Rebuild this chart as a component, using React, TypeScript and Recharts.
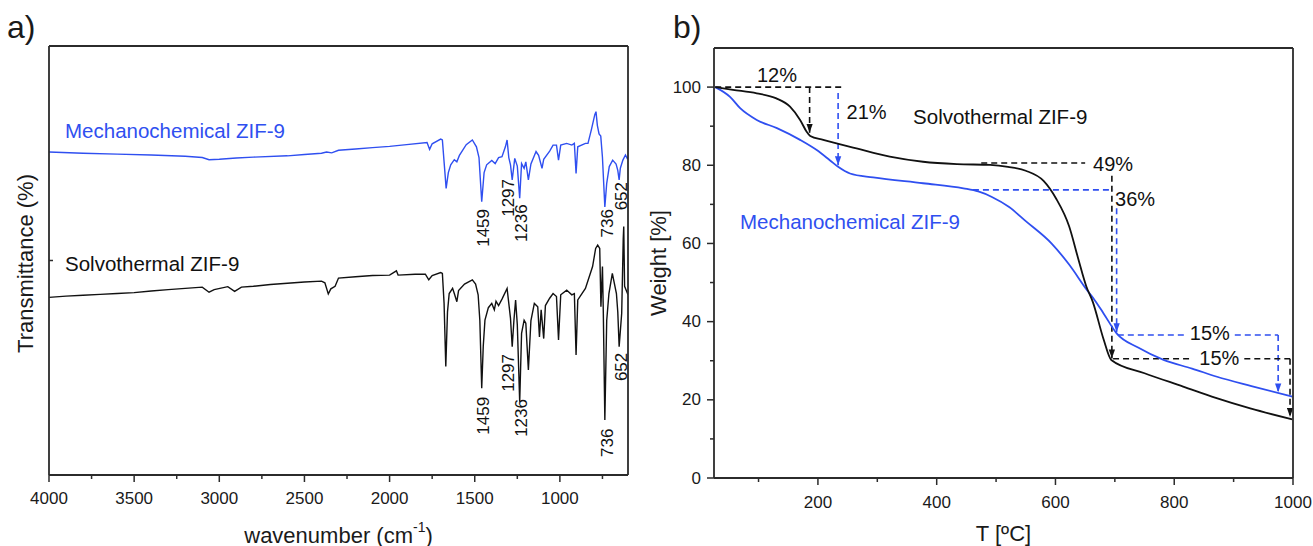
import React from 'react';
import { LineChart, Line, XAxis, YAxis, ReferenceLine, ReferenceDot } from 'recharts';

const FONT = '"Liberation Sans", Arial, Helvetica, sans-serif';
const BLUE = '#2f4ff0';
const BLACK = '#111111';
const AXIS = '#2b2b2b';
const TXT = '#1a1a1a';

// ---------- Panel a: FTIR (wavenumber, transmittance in arbitrary offset units) ----------
const ftirMechano: [number, number][] = [
  [4000, 75.3], [3800, 75.0], [3600, 74.8], [3400, 74.6], [3200, 74.3], [3100, 74.0], [3060, 73.5],
  [3000, 73.6], [2900, 73.9], [2800, 74.1], [2600, 74.4], [2500, 74.7], [2400, 75.0], [2370, 75.3],
  [2340, 75.1], [2300, 75.7], [2200, 76.0], [2100, 76.3], [2000, 76.6], [1900, 77.0], [1780, 77.5],
  [1765, 75.9], [1750, 77.2], [1700, 78.3], [1690, 78.1], [1678, 72.0], [1668, 66.8], [1655, 70.5],
  [1641, 72.3], [1620, 73.5], [1605, 73.0], [1590, 74.5], [1550, 77.0], [1514, 78.1], [1490, 76.5],
  [1475, 74.0], [1459, 63.7], [1445, 70.5], [1430, 72.3], [1400, 73.3], [1380, 72.6], [1360, 74.0],
  [1340, 74.2], [1320, 76.5], [1310, 78.1], [1300, 74.0], [1290, 72.3], [1280, 68.8], [1265, 73.8],
  [1250, 72.0], [1236, 64.5], [1225, 72.6], [1210, 71.5], [1200, 73.0], [1185, 68.8], [1170, 72.5],
  [1140, 75.4], [1125, 74.5], [1105, 71.5], [1095, 73.6], [1060, 75.5], [1040, 76.9], [1020, 76.9],
  [1008, 73.4], [995, 76.9], [960, 77.3], [930, 76.9], [915, 77.3], [905, 70.3], [895, 76.5],
  [850, 77.3], [835, 77.3], [815, 80.5], [795, 84.0], [788, 84.7], [780, 81.5], [770, 79.5],
  [760, 79.0], [750, 74.0], [736, 62.5], [725, 68.0], [710, 71.9], [690, 73.4], [670, 72.5],
  [660, 71.0], [652, 68.8], [645, 71.5], [630, 73.4], [615, 74.6], [605, 73.8], [600, 74.0],
];

const ftirSolvo: [number, number][] = [
  [4000, 41.4], [3900, 41.7], [3800, 41.9], [3700, 42.1], [3600, 42.3], [3500, 42.5], [3400, 42.9],
  [3300, 43.2], [3200, 43.5], [3100, 43.8], [3060, 42.6], [3030, 43.2], [2950, 43.9], [2910, 42.8],
  [2870, 43.8], [2800, 44.0], [2700, 44.4], [2600, 44.7], [2500, 45.0], [2400, 45.2], [2380, 44.8],
  [2360, 42.2], [2345, 43.4], [2320, 44.0], [2300, 45.9], [2200, 46.2], [2100, 46.5], [2000, 46.6],
  [1960, 47.6], [1950, 46.6], [1850, 46.8], [1790, 46.8], [1770, 45.5], [1750, 46.5], [1700, 47.2],
  [1690, 47.0], [1680, 40.0], [1670, 25.3], [1660, 38.0], [1650, 42.3], [1630, 43.5], [1620, 42.3],
  [1605, 40.4], [1595, 43.0], [1560, 44.5], [1514, 45.5], [1495, 44.5], [1480, 42.0], [1470, 36.0],
  [1459, 20.2], [1450, 30.0], [1440, 36.1], [1420, 39.0], [1400, 40.0], [1385, 38.5], [1375, 40.5],
  [1360, 39.5], [1340, 41.0], [1310, 43.5], [1300, 40.0], [1290, 36.5], [1280, 29.9], [1270, 36.0],
  [1260, 40.8], [1250, 35.0], [1236, 17.1], [1225, 33.0], [1210, 36.1], [1200, 35.4], [1185, 24.5],
  [1170, 36.0], [1150, 40.0], [1130, 39.2], [1120, 32.2], [1110, 38.5], [1095, 31.8], [1085, 39.5],
  [1060, 41.2], [1040, 42.3], [1020, 41.6], [1008, 31.5], [995, 42.0], [960, 43.1], [930, 42.0],
  [915, 42.3], [905, 28.0], [895, 40.8], [850, 43.5], [808, 48.6], [790, 52.8], [778, 53.6],
  [766, 52.8], [759, 39.2], [750, 48.6], [745, 38.0], [736, 12.8], [725, 36.0], [712, 42.3],
  [692, 47.0], [668, 42.3], [660, 38.0], [652, 29.9], [637, 37.7], [628, 55.0], [625, 57.9],
  [620, 44.0], [610, 43.0], [600, 42.0],
];

const ftirXTicks = [4000, 3750, 3500, 3250, 3000, 2750, 2500, 2250, 2000, 1750, 1500, 1250, 1000, 750];
const ftirYTicks = [50];

const ftirPeakLabels = [
  { text: '1459', x: 1447, y: 57.6, color: BLACK },
  { text: '1297', x: 1300, y: 64.6, color: BLACK },
  { text: '1236', x: 1224, y: 58.7, color: BLACK },
  { text: '736', x: 718, y: 58.7, color: BLACK },
  { text: '652', x: 641, y: 65.0, color: BLACK },
  { text: '1459', x: 1447, y: 13.8, color: BLACK },
  { text: '1297', x: 1300, y: 23.8, color: BLACK },
  { text: '1236', x: 1224, y: 13.3, color: BLACK },
  { text: '736', x: 718, y: 7.5, color: BLACK },
  { text: '652', x: 641, y: 25.2, color: BLACK },
];

const ftirSeriesLabels = [
  { text: 'Mechanochemical ZIF-9', x: 3906, y: 80.2, color: BLUE },
  { text: 'Solvothermal ZIF-9', x: 3906, y: 49.4, color: BLACK },
];

// ---------- Panel b: TGA (temperature °C, weight %) ----------
const tgaSolvo: [number, number][] = [
  [27, 100], [57, 99.3], [97, 98.4], [130, 97.1], [153, 95.0], [170, 91.6], [181, 88.6], [187, 87.5],
  [209, 86.5], [265, 84.3], [321, 82.2], [377, 80.9], [434, 80.3], [490, 80.1], [520, 79.6],
  [550, 78.6], [580, 76.0], [601, 71.5], [623, 64.4], [638, 56.3], [652, 49.0], [663, 45.0],
  [681, 35.5], [694, 30.2], [750, 26.8], [815, 23.4], [870, 20.5], [928, 17.8], [999, 15.0],
];

const tgaMechano: [number, number][] = [
  [27, 100], [52, 97.5], [69, 94.6], [97, 91.6], [131, 89.5], [170, 86.5], [198, 83.9], [220, 81.3],
  [234, 79.6], [254, 77.9], [293, 76.9], [377, 75.4], [445, 74.1], [470, 73.3], [493, 71.9],
  [522, 69.3], [550, 65.7], [594, 59.9], [623, 54.6], [652, 48.3], [667, 45.3], [681, 42.1],
  [703, 37.0], [740, 33.3], [782, 30.2], [830, 28.0], [872, 25.9], [930, 23.5], [999, 20.8],
];

const tgaXTicks = [100, 200, 300, 400, 500, 600, 700, 800, 900, 1000];
const tgaYTicks = [0, 10, 20, 30, 40, 50, 60, 70, 80, 90, 100];

const tgaDashes = [
  { x1: 27, y1: 100, x2: 242, y2: 100, color: BLACK, arrow: false },
  { x1: 186, y1: 100, x2: 186, y2: 88.3, color: BLACK, arrow: true },
  { x1: 234, y1: 98.5, x2: 234, y2: 80.0, color: BLUE, arrow: true },
  { x1: 475, y1: 80.6, x2: 650, y2: 80.6, color: BLACK, arrow: false },
  { x1: 695, y1: 77.3, x2: 695, y2: 30.6, color: BLACK, arrow: true },
  { x1: 461, y1: 73.7, x2: 697, y2: 73.7, color: BLUE, arrow: false },
  { x1: 703, y1: 69.0, x2: 703, y2: 37.3, color: BLUE, arrow: true },
  { x1: 705, y1: 36.6, x2: 818, y2: 36.6, color: BLUE, arrow: false },
  { x1: 902, y1: 36.6, x2: 975, y2: 36.6, color: BLUE, arrow: false },
  { x1: 975, y1: 36.6, x2: 975, y2: 21.9, color: BLUE, arrow: true },
  { x1: 697, y1: 30.5, x2: 825, y2: 30.5, color: BLACK, arrow: false },
  { x1: 918, y1: 30.5, x2: 995, y2: 30.5, color: BLACK, arrow: false },
  { x1: 995, y1: 30.5, x2: 995, y2: 15.6, color: BLACK, arrow: true },
];

const tgaTexts = [
  { text: '12%', x: 131, y: 103.1, color: BLACK, size: 20 },
  { text: '21%', x: 282, y: 93.7, color: BLACK, size: 20 },
  { text: 'Solvothermal ZIF-9', x: 507, y: 92.4, color: BLACK, size: 20.5 },
  { text: 'Mechanochemical ZIF-9', x: 254, y: 65.7, color: BLUE, size: 20.5 },
  { text: '49%', x: 697, y: 80.4, color: BLACK, size: 20 },
  { text: '36%', x: 734, y: 71.5, color: BLACK, size: 20 },
  { text: '15%', x: 860, y: 37.0, color: BLACK, size: 20 },
  { text: '15%', x: 876, y: 30.7, color: BLACK, size: 20 },
];

const toPts = (arr: [number, number][]) => arr.map(([x, y]) => ({ x, y }));

const XTick = (majorEvery: number, offset: number) => (props: any) => {
  const { x, y, payload } = props;
  const v = payload.value;
  const major = v % majorEvery === 0;
  return (
    <g>
      <line x1={x} x2={x} y1={y} y2={y + (major ? 7 : 4)} stroke={AXIS} strokeWidth={1.5} />
      {major && (
        <text x={x} y={y + offset} textAnchor="middle" dominantBaseline="central" fontSize={17} fontFamily={FONT} fill={TXT}>
          {v}
        </text>
      )}
    </g>
  );
};

const YTickB = (props: any) => {
  const { x, y, payload } = props;
  const v = payload.value;
  const major = v % 20 === 0;
  return (
    <g>
      <line x1={x} x2={x - (major ? 7 : 4)} y1={y} y2={y} stroke={AXIS} strokeWidth={1.5} />
      {major && (
        <text x={x - 13} y={y} textAnchor="end" dominantBaseline="central" fontSize={17} fontFamily={FONT} fill={TXT}>
          {v}
        </text>
      )}
    </g>
  );
};

const YTickA = (props: any) => {
  const { x, y } = props;
  return <line x1={x} x2={x + 4} y1={y} y2={y} stroke={AXIS} strokeWidth={1.5} />;
};

const textShape = (t: { text: string; color: string; size?: number; rotate?: boolean; anchor?: string }) => (p: any) => {
  const { cx, cy } = p;
  return (
    <text
      x={cx}
      y={cy}
      transform={t.rotate ? `rotate(-90 ${cx} ${cy})` : undefined}
      textAnchor={(t.anchor as any) || 'middle'}
      dominantBaseline="central"
      fontSize={t.size || 17}
      fontFamily={FONT}
      fill={t.color}
    >
      {t.text}
    </text>
  );
};

const dashShape = (color: string, arrow: boolean) => (p: any) => (
  <line
    x1={p.x1}
    y1={p.y1}
    x2={p.x2}
    y2={p.y2}
    stroke={color}
    strokeWidth={1.6}
    strokeDasharray="6 4"
    markerEnd={arrow ? `url(#${color === BLUE ? 'arrBlue' : 'arrBlack'})` : undefined}
  />
);

const axisLineStyle = { stroke: AXIS, strokeWidth: 1.8 };

function PanelA() {
  return (
    <LineChart width={640} height={546} margin={{ top: 45, left: 48, right: 11, bottom: 70 }}>
      <XAxis
        xAxisId="b"
        type="number"
        dataKey="x"
        domain={[600, 4000]}
        reversed
        allowDataOverflow
        ticks={ftirXTicks}
        interval={0}
        height={1}
        tickSize={0}
        tickMargin={0}
        tickLine={false}
        tick={XTick(500, 23)}
        axisLine={axisLineStyle}
        label={(props: any) => {
          const vb = props.viewBox;
          const cx = vb.x + vb.width / 2;
          return (
            <text x={cx} y={vb.y + 60} textAnchor="middle" dominantBaseline="central" fontSize={22} fontFamily={FONT} fill={TXT}>
              <tspan>wavenumber (cm</tspan>
              <tspan dy={-8} fontSize={14}>-1</tspan>
              <tspan dy={8}>)</tspan>
            </text>
          );
        }}
      />
      <XAxis xAxisId="t" orientation="top" type="number" domain={[600, 4000]} reversed height={1} tick={false} tickLine={false} axisLine={axisLineStyle} />
      <YAxis
        yAxisId="l"
        type="number"
        domain={[0, 100]}
        allowDataOverflow
        ticks={ftirYTicks}
        width={1}
        tickSize={0}
        tickMargin={0}
        tickLine={false}
        tick={YTickA}
        axisLine={axisLineStyle}
        label={(props: any) => {
          const vb = props.viewBox;
          const cx = vb.x - 23;
          const cy = vb.y + vb.height / 2 + 3;
          return (
            <text x={cx} y={cy} transform={`rotate(-90 ${cx} ${cy})`} textAnchor="middle" dominantBaseline="central" fontSize={22} fontFamily={FONT} fill={TXT}>
              Transmittance (%)
            </text>
          );
        }}
      />
      <YAxis yAxisId="r" orientation="right" type="number" domain={[0, 100]} width={1} tick={false} tickLine={false} axisLine={axisLineStyle} />
      <Line xAxisId="b" yAxisId="l" data={toPts(ftirMechano)} dataKey="y" type="linear" stroke={BLUE} strokeWidth={1.4} dot={false} isAnimationActive={false} />
      <Line xAxisId="b" yAxisId="l" data={toPts(ftirSolvo)} dataKey="y" type="linear" stroke={BLACK} strokeWidth={1.4} dot={false} isAnimationActive={false} />
      {ftirPeakLabels.map((l, i) => (
        <ReferenceDot key={'pk' + i} xAxisId="b" yAxisId="l" x={l.x} y={l.y} r={0} ifOverflow="visible" shape={textShape({ text: l.text, color: l.color, size: 17, rotate: true })} />
      ))}
      {ftirSeriesLabels.map((l, i) => (
        <ReferenceDot key={'sl' + i} xAxisId="b" yAxisId="l" x={l.x} y={l.y} r={0} ifOverflow="visible" shape={textShape({ text: l.text, color: l.color, size: 20.5, anchor: 'start' })} />
      ))}
    </LineChart>
  );
}

function PanelB() {
  return (
    <LineChart width={673} height={546} margin={{ top: 47, left: 73, right: 19, bottom: 67 }}>
      <XAxis
        xAxisId="b"
        type="number"
        dataKey="x"
        domain={[25, 1000]}
        allowDataOverflow
        ticks={tgaXTicks}
        interval={0}
        height={1}
        tickSize={0}
        tickMargin={0}
        tickLine={false}
        tick={XTick(200, 24)}
        axisLine={axisLineStyle}
        label={(props: any) => {
          const vb = props.viewBox;
          return (
            <text x={vb.x + vb.width / 2} y={vb.y + 55} textAnchor="middle" dominantBaseline="central" fontSize={22} fontFamily={FONT} fill={TXT}>
              T [ºC]
            </text>
          );
        }}
      />
      <XAxis xAxisId="t" orientation="top" type="number" domain={[25, 1000]} height={1} tick={false} tickLine={false} axisLine={axisLineStyle} />
      <YAxis
        yAxisId="l"
        type="number"
        domain={[0, 110]}
        allowDataOverflow
        ticks={tgaYTicks}
        interval={0}
        width={1}
        tickSize={0}
        tickMargin={0}
        tickLine={false}
        tick={YTickB}
        axisLine={axisLineStyle}
        label={(props: any) => {
          const vb = props.viewBox;
          const cx = vb.x - 55;
          const cy = vb.y + vb.height / 2;
          return (
            <text x={cx} y={cy} transform={`rotate(-90 ${cx} ${cy})`} textAnchor="middle" dominantBaseline="central" fontSize={22} fontFamily={FONT} fill={TXT}>
              Weight [%]
            </text>
          );
        }}
      />
      <YAxis yAxisId="r" orientation="right" type="number" domain={[0, 110]} width={1} tick={false} tickLine={false} axisLine={axisLineStyle} />
      {tgaDashes.map((d, i) => (
        <ReferenceLine
          key={'d' + i}
          xAxisId="b"
          yAxisId="l"
          segment={[{ x: d.x1, y: d.y1 }, { x: d.x2, y: d.y2 }]}
          ifOverflow="visible"
          shape={dashShape(d.color, d.arrow)}
        />
      ))}
      <Line xAxisId="b" yAxisId="l" data={toPts(tgaMechano)} dataKey="y" type="monotone" stroke={BLUE} strokeWidth={1.8} dot={false} isAnimationActive={false} />
      <Line xAxisId="b" yAxisId="l" data={toPts(tgaSolvo)} dataKey="y" type="monotone" stroke={BLACK} strokeWidth={1.8} dot={false} isAnimationActive={false} />
      {tgaTexts.map((t, i) => (
        <ReferenceDot key={'t' + i} xAxisId="b" yAxisId="l" x={t.x} y={t.y} r={0} ifOverflow="visible" shape={textShape({ text: t.text, color: t.color, size: t.size })} />
      ))}
    </LineChart>
  );
}

export default function App() {
  return (
    <div style={{ position: 'absolute', left: 0, top: 0, width: 1313, height: 546, background: '#fff', overflow: 'hidden', fontFamily: FONT }}>
      <svg width={0} height={0} style={{ position: 'absolute' }}>
        <defs>
          <marker id="arrBlack" viewBox="0 0 10 7" refX={10} refY={3.5} markerWidth={9} markerHeight={7} markerUnits="userSpaceOnUse" orient="auto">
            <path d="M0,0 L10,3.5 L0,7 z" fill={BLACK} />
          </marker>
          <marker id="arrBlue" viewBox="0 0 10 7" refX={10} refY={3.5} markerWidth={9} markerHeight={7} markerUnits="userSpaceOnUse" orient="auto">
            <path d="M0,0 L10,3.5 L0,7 z" fill={BLUE} />
          </marker>
        </defs>
      </svg>
      <div style={{ position: 'absolute', left: 0, top: 0 }}>
        <PanelA />
      </div>
      <div style={{ position: 'absolute', left: 640, top: 0 }}>
        <PanelB />
      </div>
      <div style={{ position: 'absolute', left: 7, top: 7, fontSize: 32, lineHeight: '40px', color: TXT }}>a)</div>
      <div style={{ position: 'absolute', left: 673, top: 7, fontSize: 32, lineHeight: '40px', color: TXT }}>b)</div>
    </div>
  );
}
